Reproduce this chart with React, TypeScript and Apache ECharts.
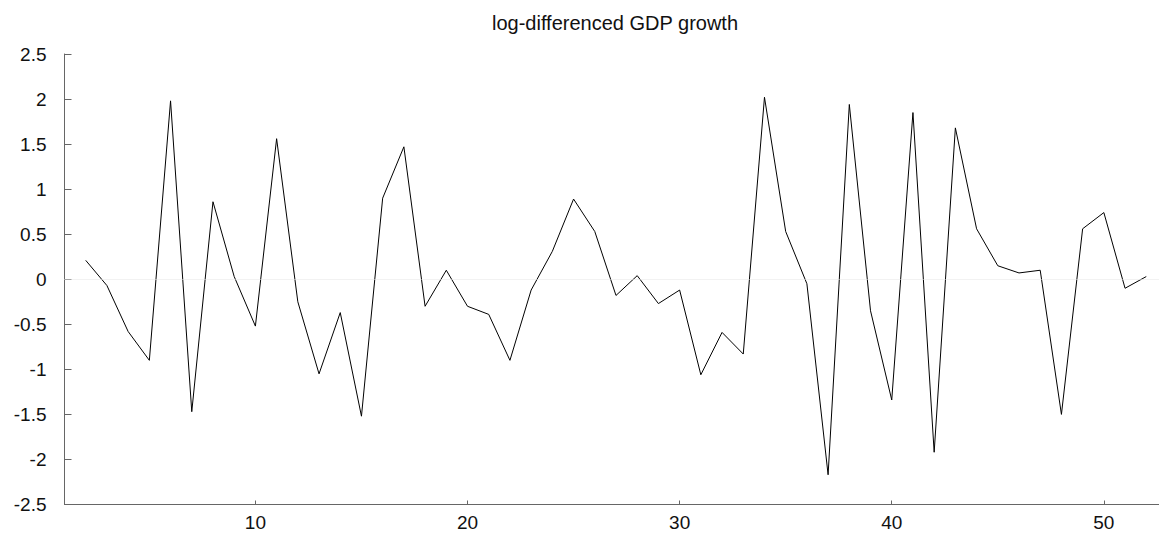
import React, { useEffect, useRef } from "react";
import * as echarts from "echarts";

// Quarter index of each growth observation (first difference starts at 2)
const periods: number[] = [
  2, 3, 4, 5, 6, 7, 8, 9, 10, 11, 12, 13, 14, 15, 16, 17, 18, 19, 20, 21, 22,
  23, 24, 25, 26, 27, 28, 29, 30, 31, 32, 33, 34, 35, 36, 37, 38, 39, 40, 41,
  42, 43, 44, 45, 46, 47, 48, 49, 50, 51, 52,
];

// Log-differenced GDP growth
const growth: number[] = [
  0.21, -0.07, -0.58, -0.9, 1.98, -1.47, 0.86, 0.03, -0.52, 1.56, -0.25,
  -1.05, -0.37, -1.52, 0.9, 1.47, -0.3, 0.1, -0.3, -0.39, -0.9, -0.12, 0.31,
  0.89, 0.53, -0.18, 0.04, -0.27, -0.12, -1.06, -0.59, -0.83, 2.02, 0.53,
  -0.05, -2.17, 1.94, -0.35, -1.34, 1.85, -1.92, 1.68, 0.56, 0.15, 0.07, 0.1,
  -1.5, 0.56, 0.74, -0.1, 0.03,
];

const xTicks: number[] = [10, 20, 30, 40, 50];

const chartTitle = "log-differenced GDP growth";
const FONT = "'Liberation Sans', Arial, Helvetica, sans-serif";

export default function App() {
  const ref = useRef<HTMLDivElement | null>(null);

  useEffect(() => {
    if (!ref.current) return;
    const chart = echarts.init(ref.current, null, { renderer: "svg" });
    const seriesData = periods.map((p, i) => [p, growth[i]]);

    chart.setOption({
      animation: false,
      backgroundColor: "#ffffff",
      graphic: [
        {
          type: "text",
          x: 615,
          y: 13,
          style: {
            text: chartTitle,
            fill: "#111",
            font: `20px ${FONT}`,
            textAlign: "center",
            textVerticalAlign: "top",
          },
        },
      ],
      grid: { left: 64.5, right: 0, top: 54, bottom: 35.5, containLabel: false },
      xAxis: {
        type: "value",
        min: 1,
        max: 52.6,
        splitLine: { show: false },
        axisLine: { show: true, onZero: false, lineStyle: { color: "#666", width: 1 } },
        axisTick: {
          show: true,
          inside: true,
          length: 4,
          customValues: xTicks,
          lineStyle: { color: "#666" },
        },
        axisLabel: {
          customValues: xTicks,
          margin: 8,
          fontSize: 19,
          fontFamily: FONT,
          color: "#111",
        },
      },
      yAxis: {
        type: "value",
        min: -2.5,
        max: 2.5,
        interval: 0.5,
        splitLine: { show: false },
        axisLine: { show: true, onZero: false, lineStyle: { color: "#666", width: 1 } },
        axisTick: { show: true, inside: true, length: 7, lineStyle: { color: "#666" } },
        axisLabel: {
          margin: 18,
          fontSize: 19,
          fontFamily: FONT,
          color: "#111",
        },
      },
      series: [
        {
          type: "line",
          data: seriesData,
          showSymbol: false,
          symbol: "none",
          lineStyle: { color: "#000", width: 1 },
          markLine: {
            silent: true,
            symbol: "none",
            label: { show: false },
            lineStyle: { color: "#e4e4e4", type: "dotted", width: 1 },
            data: [{ yAxis: 0 }],
          },
        },
      ],
    });

    return () => chart.dispose();
  }, []);

  return (
    <div
      ref={ref}
      style={{ position: "fixed", left: 0, top: 0, width: 1159, height: 540, background: "#fff" }}
    />
  );
}
